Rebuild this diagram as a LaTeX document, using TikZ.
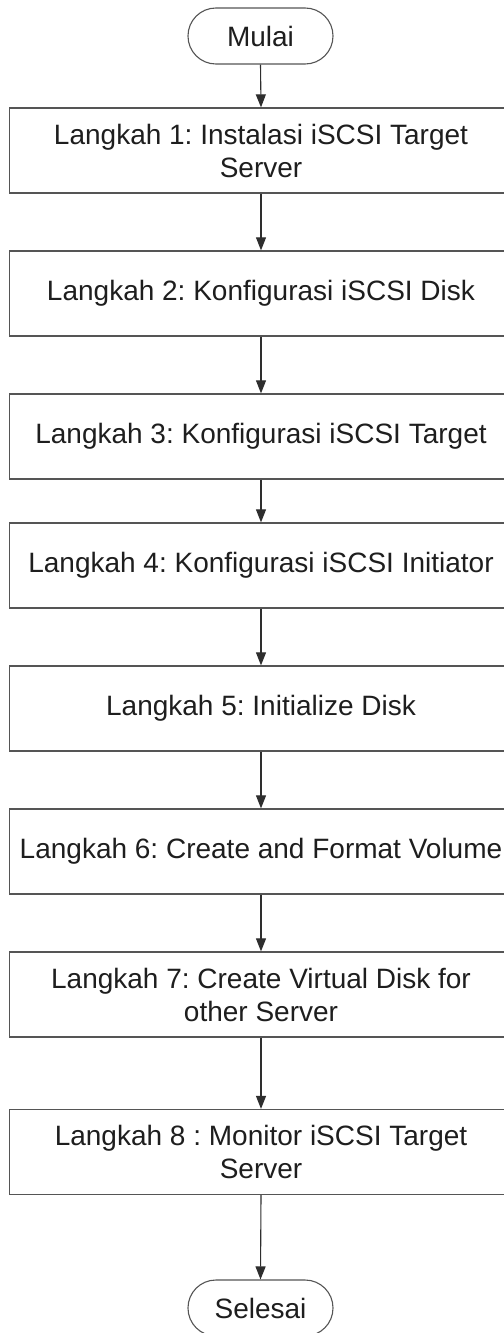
\documentclass[tikz,border=0pt]{standalone}
\usepackage{fontspec}
\setmainfont{Liberation Sans}
\frenchspacing
\usetikzlibrary{arrows.meta}
\definecolor{edge}{HTML}{555555}
\definecolor{ink}{HTML}{1E1E1E}
\definecolor{link}{HTML}{2E2E2E}
\tikzset{
  stepbox/.style={draw=edge, line width=1.3bp, fill=white, minimum width=503bp,
    minimum height=85bp, inner sep=0pt, align=center, text=ink,
    font=\fontsize{28bp}{33bp}\selectfont},
  terminal/.style={draw=edge, line width=1.1bp, fill=white, rounded corners=27.9bp,
    minimum width=145bp, minimum height=56bp, inner sep=0pt, text=ink,
    font=\fontsize{28bp}{33bp}\selectfont},
  flow/.style={draw=link, line width=1.1bp, -{Triangle[length=13bp,width=10bp]}}
}
\begin{document}
\begin{tikzpicture}[x=1bp,y=-1bp]
  \useasboundingbox (0,0) rectangle (504,1333);
  \clip (0,0) rectangle (504,1333);
  \fill[white] (0,0) rectangle (504,1333);

  \node[terminal] (start) at (260.5,36) {Mulai};
  \node[stepbox] (s1) at (261,150.5) {Langkah 1: Instalasi iSCSI Target\\Server};
  \node[stepbox] (s2) at (261,293.5) {Langkah 2: Konfigurasi iSCSI Disk};
  \node[stepbox] (s3) at (261,436.5) {Langkah 3: Konfigurasi iSCSI Target};
  \node[stepbox] (s4) at (261,565.5) {Langkah 4: Konfigurasi iSCSI Initiator};
  \node[stepbox] (s5) at (261,708.5) {Langkah 5: Initialize Disk};
  \node[stepbox] (s6) at (261,851.5) {Langkah 6: Create and Format Volume};
  \node[stepbox] (s7) at (261,994.5) {Langkah 7: Create Virtual Disk for\\other Server};
  \node[stepbox] (s8) at (261,1152) {Langkah 8 : Monitor iSCSI Target\\Server};
  \node[terminal] (end) at (260.5,1308) {Selesai};

  \draw[flow] (start.south) -- (s1.north);
  \draw[flow] (s1.south) -- (s2.north);
  \draw[flow] (s2.south) -- (s3.north);
  \draw[flow] (s3.south) -- (s4.north);
  \draw[flow] (s4.south) -- (s5.north);
  \draw[flow] (s5.south) -- (s6.north);
  \draw[flow] (s6.south) -- (s7.north);
  \draw[flow] (s7.south) -- (s8.north);
  \draw[flow] (s8.south) -- (end.north);
\end{tikzpicture}
\end{document}
